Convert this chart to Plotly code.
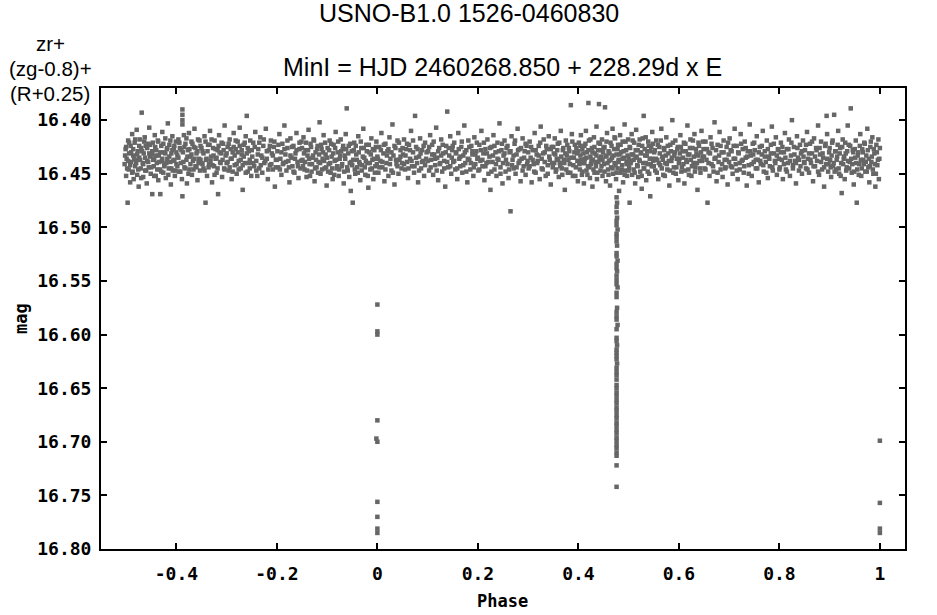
import plotly.graph_objects as go

# ---- data ----
band_points = [
    (-0.503,16.441),(-0.501,16.427),(-0.500,16.452),(-0.499,16.436),(-0.497,16.477),(-0.496,16.419),(-0.495,16.446),(-0.494,16.431),(-0.492,16.458),(-0.491,16.424),
    (-0.490,16.439),(-0.488,16.413),(-0.487,16.448),(-0.486,16.433),(-0.485,16.455),(-0.483,16.421),(-0.482,16.443),(-0.481,16.437),(-0.479,16.409),(-0.478,16.451),
    (-0.477,16.429),(-0.475,16.462),(-0.474,16.435),(-0.473,16.418),(-0.471,16.445),(-0.470,16.426),(-0.469,16.393),(-0.467,16.440),(-0.466,16.453),(-0.465,16.431),
    (-0.463,16.416),(-0.462,16.447),(-0.461,16.424),(-0.459,16.459),(-0.458,16.438),(-0.456,16.422),(-0.455,16.444),(-0.454,16.407),(-0.452,16.434),(-0.451,16.450),
    (-0.449,16.432),(-0.448,16.469),(-0.447,16.421),(-0.445,16.443),(-0.444,16.436),(-0.443,16.414),(-0.441,16.452),(-0.440,16.428),(-0.439,16.440),(-0.437,16.419),
    (-0.436,16.456),(-0.435,16.433),(-0.433,16.446),(-0.432,16.469),(-0.430,16.424),(-0.429,16.438),(-0.428,16.411),(-0.426,16.449),(-0.425,16.430),(-0.424,16.442),
    (-0.422,16.417),(-0.421,16.454),(-0.419,16.427),(-0.418,16.436),(-0.417,16.403),(-0.415,16.445),(-0.414,16.423),(-0.412,16.439),(-0.411,16.460),(-0.410,16.431),
    (-0.408,16.415),(-0.407,16.447),(-0.405,16.426),(-0.404,16.437),(-0.403,16.452),(-0.401,16.420),(-0.400,16.441),
    (-0.398,16.433),(-0.396,16.418),(-0.395,16.448),(-0.393,16.426),(-0.391,16.440),(-0.389,16.455),(-0.388,16.390),(-0.388,16.395),(-0.388,16.400),(-0.388,16.404),
    (-0.388,16.471),(-0.387,16.430),(-0.385,16.414),(-0.384,16.444),(-0.382,16.422),(-0.380,16.437),(-0.379,16.459),(-0.377,16.428),(-0.375,16.412),(-0.374,16.446),
    (-0.372,16.434),(-0.370,16.420),(-0.369,16.451),(-0.367,16.438),(-0.365,16.425),(-0.364,16.408),(-0.362,16.443),(-0.360,16.431),(-0.358,16.456),(-0.357,16.418),
    (-0.355,16.436),(-0.353,16.447),(-0.352,16.424),(-0.350,16.440),
    (-0.348,16.429),(-0.346,16.445),(-0.344,16.415),(-0.342,16.477),(-0.341,16.437),(-0.339,16.452),(-0.337,16.423),(-0.335,16.441),(-0.333,16.410),(-0.331,16.434),
    (-0.329,16.458),(-0.327,16.426),(-0.325,16.443),(-0.324,16.419),(-0.322,16.436),(-0.320,16.449),(-0.318,16.428),(-0.317,16.469),(-0.315,16.414),(-0.313,16.439),
    (-0.311,16.431),(-0.309,16.453),(-0.307,16.422),(-0.305,16.445),(-0.304,16.405),(-0.302,16.433),(-0.300,16.440),
    (-0.298,16.425),(-0.296,16.447),(-0.294,16.418),(-0.292,16.436),(-0.290,16.455),(-0.288,16.430),(-0.286,16.412),(-0.284,16.442),(-0.282,16.427),(-0.280,16.450),
    (-0.278,16.420),(-0.276,16.438),(-0.274,16.407),(-0.272,16.445),(-0.270,16.432),(-0.268,16.465),(-0.266,16.423),(-0.264,16.440),(-0.262,16.415),(-0.260,16.396),
    (-0.258,16.448),(-0.256,16.429),(-0.254,16.437),(-0.253,16.419),(-0.251,16.452),
    (-0.249,16.434),(-0.247,16.421),(-0.245,16.443),(-0.243,16.411),(-0.241,16.438),(-0.239,16.452),(-0.237,16.427),(-0.235,16.445),(-0.233,16.416),(-0.231,16.433),
    (-0.229,16.449),(-0.227,16.424),(-0.225,16.440),(-0.222,16.408),(-0.220,16.436),(-0.218,16.455),(-0.216,16.428),(-0.214,16.442),(-0.212,16.419),(-0.210,16.431),
    (-0.208,16.446),(-0.206,16.425),(-0.204,16.462),(-0.202,16.437),
    (-0.199,16.429),(-0.197,16.444),(-0.195,16.413),(-0.193,16.436),(-0.191,16.451),(-0.189,16.422),(-0.187,16.440),(-0.185,16.405),(-0.183,16.432),(-0.181,16.447),
    (-0.179,16.426),(-0.177,16.438),(-0.175,16.458),(-0.173,16.417),(-0.171,16.435),(-0.169,16.443),(-0.167,16.424),(-0.165,16.449),(-0.163,16.431),(-0.161,16.412),
    (-0.159,16.439),(-0.157,16.454),(-0.155,16.427),(-0.153,16.445),(-0.151,16.420),
    (-0.149,16.437),(-0.147,16.416),(-0.145,16.446),(-0.143,16.428),(-0.141,16.453),(-0.139,16.433),(-0.137,16.409),(-0.135,16.441),(-0.133,16.422),(-0.131,16.448),
    (-0.129,16.435),(-0.127,16.418),(-0.125,16.457),(-0.123,16.430),(-0.121,16.444),(-0.119,16.424),(-0.117,16.439),(-0.115,16.402),(-0.113,16.450),(-0.111,16.427),
    (-0.109,16.436),(-0.107,16.414),(-0.105,16.445),(-0.103,16.432),(-0.101,16.461),
    (-0.099,16.426),(-0.097,16.441),(-0.095,16.419),(-0.093,16.449),(-0.091,16.434),(-0.089,16.455),(-0.087,16.423),(-0.085,16.438),(-0.083,16.411),(-0.081,16.445),
    (-0.079,16.430),(-0.077,16.452),(-0.075,16.436),(-0.073,16.418),(-0.071,16.443),(-0.069,16.427),(-0.067,16.459),(-0.065,16.433),(-0.063,16.413),(-0.061,16.389),
    (-0.059,16.447),(-0.057,16.424),(-0.055,16.440),(-0.053,16.466),(-0.051,16.429),
    (-0.049,16.477),(-0.048,16.437),(-0.046,16.421),(-0.044,16.450),(-0.042,16.432),(-0.040,16.444),(-0.038,16.415),(-0.036,16.439),(-0.034,16.456),(-0.032,16.426),
    (-0.030,16.442),(-0.028,16.408),(-0.026,16.435),(-0.024,16.451),(-0.022,16.423),(-0.020,16.440),(-0.018,16.463),(-0.016,16.430),(-0.014,16.446),(-0.012,16.417),
    (-0.010,16.437),(-0.008,16.455),(-0.006,16.428),(-0.004,16.443),(-0.002,16.420),(0.000,16.434),
    (0.002,16.449),(0.004,16.425),(0.006,16.438),(0.008,16.412),(0.010,16.444),(0.012,16.431),(0.014,16.457),(0.016,16.422),(0.018,16.440),(0.020,16.429),
    (0.022,16.452),(0.024,16.416),(0.026,16.436),(0.028,16.447),(0.030,16.404),(0.032,16.433),(0.034,16.460),(0.036,16.426),(0.038,16.441),(0.040,16.419),
    (0.042,16.450),(0.044,16.437),(0.046,16.428),(0.048,16.445),
    (0.051,16.432),(0.053,16.418),(0.055,16.446),(0.057,16.427),(0.059,16.439),(0.061,16.454),(0.063,16.423),(0.065,16.436),(0.067,16.410),(0.069,16.443),
    (0.071,16.430),(0.073,16.449),(0.075,16.396),(0.077,16.425),(0.079,16.440),(0.081,16.458),(0.083,16.434),(0.085,16.417),(0.087,16.445),(0.089,16.428),
    (0.091,16.438),(0.093,16.452),(0.095,16.421),(0.097,16.436),
    (0.101,16.429),(0.103,16.447),(0.105,16.414),(0.107,16.437),(0.109,16.423),(0.111,16.451),(0.113,16.432),(0.115,16.442),(0.117,16.407),(0.119,16.435),
    (0.121,16.456),(0.123,16.426),(0.125,16.440),(0.127,16.418),(0.129,16.448),(0.131,16.431),(0.133,16.438),(0.135,16.462),(0.137,16.424),(0.139,16.392),
    (0.141,16.444),(0.143,16.433),(0.145,16.415),(0.147,16.450),(0.149,16.428),
    (0.151,16.439),(0.153,16.421),(0.155,16.446),(0.157,16.430),(0.159,16.455),(0.161,16.412),(0.163,16.436),(0.165,16.443),(0.167,16.425),(0.169,16.449),
    (0.171,16.433),(0.173,16.405),(0.175,16.440),(0.177,16.428),(0.179,16.458),(0.181,16.419),(0.183,16.437),(0.185,16.446),(0.187,16.424),(0.189,16.432),
    (0.191,16.452),(0.193,16.416),(0.195,16.441),(0.197,16.429),(0.199,16.436),
    (0.201,16.447),(0.203,16.423),(0.205,16.438),(0.207,16.410),(0.209,16.443),(0.211,16.431),(0.213,16.456),(0.215,16.427),(0.217,16.440),(0.219,16.418),
    (0.221,16.450),(0.223,16.434),(0.225,16.465),(0.227,16.425),(0.229,16.439),(0.231,16.414),(0.233,16.446),(0.235,16.430),(0.237,16.452),(0.239,16.421),
    (0.241,16.437),(0.243,16.403),(0.245,16.444),(0.247,16.428),(0.249,16.459),
    (0.251,16.433),(0.253,16.419),(0.255,16.448),(0.257,16.426),(0.259,16.441),(0.261,16.454),(0.263,16.430),(0.265,16.485),(0.267,16.415),(0.269,16.437),
    (0.271,16.445),(0.273,16.422),(0.275,16.450),(0.277,16.432),(0.279,16.408),(0.281,16.440),(0.283,16.427),(0.285,16.457),(0.287,16.436),(0.289,16.417),
    (0.291,16.443),(0.293,16.429),(0.295,16.451),(0.297,16.424),(0.299,16.438),
    (0.301,16.445),(0.303,16.420),(0.305,16.435),(0.307,16.458),(0.309,16.428),(0.311,16.441),(0.313,16.412),(0.315,16.449),(0.317,16.432),(0.319,16.438),
    (0.321,16.424),(0.323,16.455),(0.325,16.406),(0.327,16.436),(0.329,16.446),(0.331,16.418),(0.333,16.430),(0.335,16.452),(0.337,16.427),(0.339,16.442),
    (0.341,16.415),(0.343,16.437),(0.345,16.460),(0.347,16.425),(0.349,16.444),
    (0.351,16.431),(0.353,16.417),(0.355,16.448),(0.357,16.436),(0.359,16.422),(0.361,16.453),(0.363,16.440),(0.365,16.410),(0.367,16.445),(0.369,16.428),
    (0.371,16.437),(0.373,16.465),(0.375,16.419),(0.377,16.433),(0.379,16.449),(0.381,16.426),(0.383,16.441),(0.385,16.386),(0.387,16.413),(0.389,16.452),
    (0.391,16.435),(0.393,16.423),(0.395,16.444),(0.397,16.431),(0.399,16.457),
    (0.400,16.438),(0.401,16.421),(0.403,16.446),(0.404,16.433),(0.405,16.414),(0.407,16.451),(0.408,16.427),(0.409,16.440),(0.411,16.459),(0.412,16.424),
    (0.413,16.436),(0.415,16.410),(0.416,16.447),(0.417,16.430),(0.419,16.443),(0.420,16.384),(0.421,16.419),(0.423,16.454),(0.424,16.434),(0.425,16.441),
    (0.427,16.426),(0.428,16.462),(0.429,16.437),(0.431,16.416),(0.432,16.449),(0.433,16.431),(0.435,16.443),(0.436,16.406),(0.437,16.455),(0.439,16.428),
    (0.440,16.439),(0.441,16.385),(0.443,16.422),(0.444,16.447),(0.445,16.434),(0.447,16.418),(0.448,16.452),(0.449,16.430),
    (0.451,16.441),(0.452,16.425),(0.453,16.388),(0.455,16.457),(0.456,16.433),(0.457,16.412),(0.459,16.446),(0.460,16.429),(0.461,16.438),(0.463,16.461),
    (0.464,16.421),(0.465,16.444),(0.467,16.435),(0.468,16.408),(0.469,16.450),(0.471,16.427),(0.472,16.440),(0.473,16.417),(0.475,16.455),(0.476,16.432),
    (0.478,16.445),(0.479,16.423),(0.480,16.437),(0.481,16.466),(0.483,16.414),(0.484,16.449),(0.485,16.430),(0.487,16.442),(0.488,16.420),(0.489,16.458),
    (0.491,16.435),(0.492,16.404),(0.493,16.447),(0.495,16.428),(0.496,16.439),(0.497,16.452),(0.499,16.418),(0.500,16.436),
    (0.501,16.444),(0.502,16.477),(0.503,16.426),(0.505,16.438),(0.506,16.413),(0.507,16.451),(0.509,16.432),(0.510,16.446),(0.511,16.421),(0.513,16.459),
    (0.514,16.435),(0.515,16.409),(0.517,16.442),(0.518,16.428),(0.519,16.453),(0.521,16.437),(0.522,16.418),(0.523,16.448),(0.525,16.431),(0.526,16.464),
    (0.527,16.424),(0.529,16.440),(0.530,16.396),(0.531,16.445),(0.533,16.433),(0.534,16.416),(0.535,16.456),(0.537,16.429),(0.538,16.441),(0.539,16.420),
    (0.541,16.450),(0.542,16.436),(0.543,16.471),(0.545,16.425),(0.546,16.443),(0.547,16.411),(0.549,16.438),
    (0.551,16.430),(0.553,16.447),(0.555,16.419),(0.557,16.437),(0.559,16.455),(0.561,16.425),(0.563,16.442),(0.565,16.408),(0.567,16.434),(0.569,16.451),
    (0.571,16.428),(0.573,16.440),(0.575,16.416),(0.577,16.446),(0.579,16.431),(0.581,16.461),(0.583,16.423),(0.585,16.438),(0.587,16.400),(0.589,16.449),
    (0.591,16.433),(0.593,16.419),(0.595,16.444),(0.597,16.427),(0.599,16.456),
    (0.601,16.436),(0.603,16.414),(0.605,16.448),(0.607,16.429),(0.609,16.441),(0.611,16.459),(0.613,16.422),(0.615,16.437),(0.617,16.405),(0.619,16.446),
    (0.621,16.432),(0.623,16.418),(0.625,16.452),(0.627,16.426),(0.629,16.440),(0.631,16.413),(0.633,16.444),(0.635,16.431),(0.637,16.465),(0.639,16.421),
    (0.641,16.438),(0.643,16.449),(0.645,16.410),(0.647,16.434),(0.649,16.427),
    (0.651,16.445),(0.653,16.420),(0.655,16.437),(0.657,16.477),(0.659,16.430),(0.661,16.452),(0.663,16.416),(0.665,16.441),(0.667,16.426),(0.669,16.448),
    (0.671,16.402),(0.673,16.435),(0.675,16.457),(0.677,16.423),(0.679,16.439),(0.681,16.411),(0.683,16.446),(0.685,16.430),(0.687,16.453),(0.689,16.419),
    (0.691,16.437),(0.693,16.444),(0.695,16.425),(0.697,16.460),(0.699,16.432),
    (0.701,16.417),(0.703,16.443),(0.705,16.429),(0.707,16.450),(0.709,16.436),(0.711,16.408),(0.713,16.441),(0.715,16.424),(0.717,16.455),(0.719,16.431),
    (0.721,16.446),(0.723,16.413),(0.725,16.438),(0.727,16.427),(0.729,16.449),(0.731,16.420),(0.733,16.435),(0.735,16.461),(0.737,16.429),(0.739,16.442),
    (0.741,16.404),(0.743,16.433),(0.745,16.452),(0.747,16.422),(0.749,16.439),
    (0.751,16.428),(0.753,16.445),(0.755,16.415),(0.757,16.437),(0.759,16.458),(0.761,16.425),(0.763,16.441),(0.765,16.432),(0.767,16.410),(0.769,16.448),
    (0.771,16.429),(0.773,16.439),(0.775,16.419),(0.777,16.454),(0.779,16.434),(0.781,16.443),(0.783,16.423),(0.785,16.406),(0.787,16.447),(0.789,16.431),
    (0.791,16.438),(0.793,16.416),(0.795,16.451),(0.797,16.427),(0.799,16.436),
    (0.801,16.444),(0.803,16.421),(0.805,16.437),(0.807,16.455),(0.809,16.430),(0.811,16.412),(0.813,16.446),(0.815,16.427),(0.817,16.440),(0.819,16.418),
    (0.821,16.452),(0.823,16.433),(0.825,16.400),(0.827,16.442),(0.829,16.425),(0.831,16.438),(0.833,16.459),(0.835,16.415),(0.837,16.435),(0.839,16.447),
    (0.841,16.423),(0.843,16.431),(0.845,16.450),(0.847,16.419),(0.849,16.439),
    (0.851,16.428),(0.853,16.445),(0.855,16.411),(0.857,16.436),(0.859,16.449),(0.861,16.422),(0.863,16.440),(0.865,16.431),(0.867,16.457),(0.869,16.417),
    (0.871,16.443),(0.873,16.426),(0.875,16.438),(0.877,16.405),(0.879,16.451),(0.881,16.432),(0.883,16.420),(0.885,16.446),(0.887,16.435),(0.889,16.462),
    (0.891,16.424),(0.893,16.441),(0.894,16.396),(0.895,16.413),(0.897,16.448),(0.899,16.430),
    (0.901,16.437),(0.903,16.453),(0.905,16.421),(0.907,16.443),(0.909,16.395),(0.911,16.429),(0.913,16.446),(0.915,16.434),(0.917,16.410),(0.919,16.450),
    (0.921,16.426),(0.923,16.440),(0.924,16.468),(0.926,16.418),(0.928,16.436),(0.930,16.455),(0.932,16.431),(0.934,16.444),(0.936,16.405),(0.938,16.423),
    (0.940,16.439),(0.942,16.389),(0.944,16.449),(0.946,16.428),(0.948,16.460),
    (0.951,16.435),(0.952,16.419),(0.954,16.477),(0.955,16.446),(0.957,16.430),(0.959,16.441),(0.961,16.413),(0.963,16.452),(0.965,16.427),(0.967,16.437),
    (0.969,16.421),(0.971,16.448),(0.973,16.433),(0.975,16.408),(0.977,16.444),(0.979,16.458),(0.981,16.425),(0.983,16.439),(0.985,16.416),(0.987,16.450),
    (0.989,16.431),(0.991,16.462),(0.993,16.423),(0.995,16.442),(0.997,16.418),(0.999,16.436),
]

# second group of band observations (core of the band)
band_points_2 = [
    (-0.502,16.433),(-0.500,16.425),(-0.498,16.445),(-0.496,16.438),(-0.494,16.421),(-0.492,16.442),(-0.490,16.430),(-0.488,16.449),(-0.486,16.427),(-0.484,16.436),
    (-0.482,16.418),(-0.480,16.440),(-0.478,16.432),(-0.476,16.446),(-0.474,16.424),(-0.472,16.437),(-0.470,16.454),(-0.468,16.429),(-0.466,16.441),(-0.464,16.420),
    (-0.462,16.435),(-0.460,16.447),(-0.458,16.426),(-0.456,16.439),(-0.454,16.431),(-0.452,16.423),
    (-0.450,16.444),(-0.448,16.429),(-0.446,16.437),(-0.444,16.452),(-0.442,16.425),(-0.440,16.433),(-0.438,16.446),(-0.436,16.420),(-0.434,16.439),(-0.432,16.430),
    (-0.430,16.448),(-0.428,16.436),(-0.426,16.422),(-0.424,16.443),(-0.422,16.431),(-0.420,16.440),(-0.418,16.426),(-0.416,16.451),(-0.414,16.434),(-0.412,16.419),
    (-0.410,16.445),(-0.408,16.428),(-0.406,16.438),(-0.404,16.424),(-0.402,16.447),
    (-0.400,16.430),(-0.398,16.443),(-0.396,16.435),(-0.394,16.421),(-0.392,16.448),(-0.390,16.428),(-0.386,16.439),(-0.384,16.425),(-0.382,16.445),(-0.380,16.417),
    (-0.378,16.434),(-0.376,16.450),(-0.374,16.427),(-0.372,16.441),(-0.370,16.432),(-0.368,16.422),(-0.366,16.446),(-0.364,16.436),(-0.362,16.426),(-0.360,16.444),
    (-0.358,16.429),(-0.356,16.440),(-0.354,16.419),(-0.352,16.437),
    (-0.350,16.426),(-0.348,16.441),(-0.346,16.431),(-0.344,16.447),(-0.342,16.420),(-0.340,16.436),(-0.338,16.429),(-0.336,16.444),(-0.334,16.423),(-0.332,16.438),
    (-0.330,16.418),(-0.328,16.442),(-0.326,16.433),(-0.324,16.451),(-0.322,16.427),(-0.320,16.435),(-0.318,16.445),(-0.316,16.424),(-0.314,16.430),(-0.312,16.440),
    (-0.310,16.421),(-0.308,16.437),(-0.306,16.428),(-0.304,16.446),
    (-0.300,16.431),(-0.298,16.439),(-0.296,16.422),(-0.294,16.444),(-0.292,16.427),(-0.290,16.436),(-0.288,16.448),(-0.286,16.425),(-0.284,16.433),(-0.282,16.419),
    (-0.280,16.441),(-0.278,16.430),(-0.276,16.446),(-0.274,16.424),(-0.272,16.437),(-0.270,16.428),(-0.268,16.442),(-0.266,16.434),(-0.264,16.421),(-0.262,16.449),
    (-0.260,16.431),(-0.258,16.426),(-0.256,16.440),(-0.254,16.445),
    (-0.250,16.428),(-0.247,16.440),(-0.244,16.425),(-0.241,16.447),(-0.238,16.432),(-0.235,16.421),(-0.232,16.442),(-0.229,16.435),(-0.226,16.418),(-0.223,16.438),
    (-0.220,16.429),(-0.217,16.446),(-0.214,16.424),(-0.211,16.441),(-0.208,16.433),(-0.205,16.420),(-0.202,16.444),
    (-0.200,16.437),(-0.197,16.423),(-0.194,16.446),(-0.191,16.430),(-0.188,16.441),(-0.185,16.427),(-0.182,16.439),(-0.179,16.419),(-0.176,16.444),(-0.173,16.433),
    (-0.170,16.425),(-0.167,16.448),(-0.164,16.436),(-0.161,16.428),(-0.158,16.443),(-0.155,16.421),(-0.152,16.438),
    (-0.150,16.426),(-0.148,16.443),(-0.146,16.431),(-0.144,16.439),(-0.142,16.421),(-0.140,16.447),(-0.138,16.428),(-0.136,16.436),(-0.134,16.452),(-0.132,16.425),
    (-0.130,16.441),(-0.128,16.433),(-0.126,16.419),(-0.124,16.445),(-0.122,16.437),(-0.120,16.427),(-0.118,16.449),(-0.116,16.432),(-0.114,16.440),(-0.112,16.423),
    (-0.110,16.446),(-0.108,16.430),(-0.106,16.438),(-0.104,16.421),(-0.102,16.444),
    (-0.100,16.435),(-0.098,16.448),(-0.096,16.428),(-0.094,16.440),(-0.092,16.422),(-0.090,16.445),(-0.088,16.431),(-0.086,16.451),(-0.084,16.426),(-0.082,16.437),
    (-0.080,16.443),(-0.078,16.420),(-0.076,16.446),(-0.074,16.433),(-0.072,16.429),(-0.070,16.441),(-0.068,16.424),(-0.066,16.448),(-0.064,16.436),(-0.062,16.427),
    (-0.060,16.444),(-0.058,16.431),(-0.056,16.453),(-0.054,16.422),(-0.052,16.439),
    (-0.050,16.442),(-0.047,16.428),(-0.045,16.446),(-0.043,16.424),(-0.041,16.437),(-0.039,16.449),(-0.037,16.430),(-0.035,16.441),(-0.033,16.420),(-0.031,16.447),
    (-0.029,16.434),(-0.027,16.426),(-0.025,16.444),(-0.023,16.438),(-0.021,16.429),(-0.019,16.452),(-0.017,16.423),(-0.015,16.440),(-0.013,16.432),(-0.011,16.445),
    (-0.009,16.427),(-0.007,16.436),(-0.005,16.449),(-0.003,16.425),(-0.001,16.441),
    (0.001,16.436),(0.004,16.444),(0.007,16.428),(0.010,16.439),(0.013,16.423),(0.016,16.446),(0.019,16.433),(0.022,16.427),(0.025,16.441),(0.028,16.430),
    (0.031,16.449),(0.034,16.424),(0.037,16.437),(0.040,16.443),(0.043,16.421),(0.046,16.434),(0.049,16.440),
    (0.050,16.426),(0.053,16.441),(0.056,16.433),(0.059,16.422),(0.062,16.445),(0.065,16.428),(0.068,16.438),(0.071,16.419),(0.074,16.443),(0.077,16.435),
    (0.080,16.427),(0.083,16.447),(0.086,16.431),(0.089,16.439),(0.092,16.424),(0.095,16.442),(0.098,16.430),
    (0.100,16.438),(0.103,16.425),(0.106,16.444),(0.109,16.432),(0.112,16.420),(0.115,16.436),(0.118,16.447),(0.121,16.429),(0.124,16.441),(0.127,16.433),
    (0.130,16.423),(0.133,16.445),(0.136,16.430),(0.139,16.439),(0.142,16.426),(0.145,16.443),(0.148,16.435),
    (0.150,16.424),(0.153,16.438),(0.156,16.431),(0.159,16.445),(0.162,16.427),(0.165,16.434),(0.168,16.420),(0.171,16.442),(0.174,16.430),(0.177,16.448),
    (0.180,16.436),(0.183,16.425),(0.186,16.440),(0.189,16.429),(0.192,16.444),(0.195,16.432),(0.198,16.421),
    (0.200,16.435),(0.203,16.446),(0.206,16.428),(0.209,16.437),(0.212,16.421),(0.215,16.443),(0.218,16.431),(0.221,16.439),(0.224,16.426),(0.227,16.448),
    (0.230,16.433),(0.233,16.424),(0.236,16.441),(0.239,16.436),(0.242,16.429),(0.245,16.450),(0.248,16.422),
    (0.250,16.440),(0.253,16.431),(0.256,16.437),(0.259,16.424),(0.262,16.446),(0.265,16.429),(0.268,16.442),(0.271,16.433),(0.274,16.419),(0.277,16.444),
    (0.280,16.428),(0.283,16.438),(0.286,16.426),(0.289,16.447),(0.292,16.435),(0.295,16.422),(0.298,16.441),
    (0.300,16.430),(0.303,16.443),(0.306,16.425),(0.309,16.437),(0.312,16.448),(0.315,16.428),(0.318,16.440),(0.321,16.433),(0.324,16.421),(0.327,16.445),
    (0.330,16.431),(0.333,16.439),(0.336,16.424),(0.339,16.450),(0.342,16.434),(0.345,16.427),(0.348,16.440),
    (0.350,16.425),(0.352,16.440),(0.354,16.432),(0.356,16.446),(0.358,16.428),(0.360,16.437),(0.362,16.421),(0.364,16.443),(0.366,16.434),(0.368,16.451),
    (0.370,16.426),(0.372,16.440),(0.374,16.431),(0.376,16.446),(0.378,16.423),(0.380,16.437),(0.382,16.429),(0.384,16.449),(0.386,16.435),(0.388,16.420),
    (0.390,16.442),(0.392,16.430),(0.394,16.452),(0.396,16.426),(0.398,16.438),
    (0.400,16.429),(0.402,16.441),(0.404,16.424),(0.406,16.437),(0.408,16.448),(0.410,16.431),(0.412,16.440),(0.414,16.422),(0.416,16.435),(0.418,16.451),
    (0.420,16.428),(0.422,16.444),(0.424,16.418),(0.426,16.437),(0.428,16.430),(0.430,16.446),(0.432,16.425),(0.434,16.439),(0.436,16.433),(0.438,16.449),
    (0.440,16.421),(0.442,16.436),(0.444,16.428),(0.446,16.443),(0.448,16.437),
    (0.450,16.426),(0.452,16.448),(0.454,16.434),(0.456,16.420),(0.458,16.440),(0.460,16.451),(0.462,16.431),(0.464,16.437),(0.466,16.424),(0.468,16.445),
    (0.470,16.433),(0.472,16.416),(0.474,16.442),(0.476,16.449),(0.478,16.427),(0.480,16.439),(0.482,16.432),(0.484,16.423),(0.486,16.446),(0.488,16.436),
    (0.490,16.429),(0.492,16.451),(0.494,16.420),(0.496,16.441),(0.498,16.433),
    (0.500,16.447),(0.502,16.425),(0.504,16.440),(0.506,16.432),(0.508,16.419),(0.510,16.437),(0.512,16.449),(0.514,16.428),(0.516,16.434),(0.518,16.443),
    (0.520,16.423),(0.522,16.438),(0.524,16.430),(0.526,16.452),(0.528,16.417),(0.530,16.445),(0.532,16.427),(0.534,16.440),(0.536,16.433),(0.538,16.448),
    (0.540,16.424),(0.542,16.429),(0.544,16.441),(0.546,16.436),(0.548,16.422),
    (0.550,16.443),(0.552,16.428),(0.554,16.436),(0.556,16.449),(0.558,16.423),(0.560,16.440),(0.562,16.431),(0.564,16.419),(0.566,16.445),(0.568,16.437),
    (0.570,16.426),(0.572,16.452),(0.574,16.433),(0.576,16.441),(0.578,16.424),(0.580,16.438),(0.582,16.447),(0.584,16.429),(0.586,16.435),(0.588,16.421),
    (0.590,16.444),(0.592,16.430),(0.594,16.450),(0.596,16.436),(0.598,16.425),
    (0.600,16.440),(0.602,16.431),(0.604,16.425),(0.606,16.444),(0.608,16.435),(0.610,16.421),(0.612,16.447),(0.614,16.429),(0.616,16.439),(0.618,16.432),
    (0.620,16.451),(0.622,16.426),(0.624,16.437),(0.626,16.443),(0.628,16.419),(0.630,16.434),(0.632,16.448),(0.634,16.427),(0.636,16.440),(0.638,16.433),
    (0.640,16.424),(0.642,16.445),(0.644,16.430),(0.646,16.438),(0.648,16.420),
    (0.650,16.434),(0.653,16.446),(0.656,16.427),(0.659,16.440),(0.662,16.431),(0.665,16.422),(0.668,16.443),(0.671,16.436),(0.674,16.428),(0.677,16.449),
    (0.680,16.433),(0.683,16.424),(0.686,16.441),(0.689,16.430),(0.692,16.445),(0.695,16.437),(0.698,16.421),
    (0.700,16.439),(0.703,16.428),(0.706,16.444),(0.709,16.424),(0.712,16.436),(0.715,16.447),(0.718,16.430),(0.721,16.440),(0.724,16.422),(0.727,16.437),
    (0.730,16.443),(0.733,16.426),(0.736,16.434),(0.739,16.450),(0.742,16.429),(0.745,16.441),(0.748,16.432),
    (0.750,16.421),(0.753,16.437),(0.756,16.445),(0.759,16.430),(0.762,16.438),(0.765,16.424),(0.768,16.442),(0.771,16.434),(0.774,16.449),(0.777,16.427),
    (0.780,16.436),(0.783,16.431),(0.786,16.444),(0.789,16.422),(0.792,16.440),(0.795,16.433),(0.798,16.428),
    (0.800,16.446),(0.803,16.430),(0.806,16.425),(0.809,16.441),(0.812,16.435),(0.815,16.448),(0.818,16.427),(0.821,16.438),(0.824,16.421),(0.827,16.445),
    (0.830,16.432),(0.833,16.440),(0.836,16.426),(0.839,16.437),(0.842,16.443),(0.845,16.429),(0.848,16.434),
    (0.850,16.440),(0.853,16.423),(0.856,16.446),(0.859,16.431),(0.862,16.437),(0.865,16.420),(0.868,16.443),(0.871,16.434),(0.874,16.428),(0.877,16.448),
    (0.880,16.426),(0.883,16.439),(0.886,16.431),(0.889,16.444),(0.892,16.422),(0.895,16.436),(0.898,16.441),
    (0.900,16.426),(0.902,16.444),(0.904,16.433),(0.906,16.419),(0.908,16.440),(0.910,16.448),(0.912,16.429),(0.914,16.437),(0.916,16.423),(0.918,16.445),
    (0.920,16.431),(0.922,16.452),(0.925,16.425),(0.927,16.441),(0.929,16.434),(0.931,16.421),(0.933,16.447),(0.935,16.429),(0.937,16.438),(0.939,16.445),
    (0.941,16.424),(0.943,16.436),(0.945,16.441),(0.947,16.430),(0.949,16.448),
    (0.950,16.427),(0.953,16.440),(0.956,16.433),(0.958,16.451),(0.960,16.424),(0.962,16.437),(0.964,16.445),(0.966,16.430),(0.968,16.441),(0.970,16.422),
    (0.972,16.439),(0.974,16.448),(0.976,16.428),(0.978,16.436),(0.980,16.443),(0.982,16.420),(0.984,16.434),(0.986,16.446),(0.988,16.427),(0.990,16.441),
    (0.992,16.450),(0.994,16.430),(0.996,16.437),(0.998,16.455),(1.000,16.426),
]

# secondary minimum column near phase 0.476
ecl2_phase = [0.476,0.477,0.476,0.476,0.477,0.476,0.476,0.478,0.476,0.476,
              0.476,0.477,0.476,0.476,0.478,0.476,0.476,0.477,0.476,0.476,
              0.476,0.478,0.476,0.476,0.477,0.476,0.476,0.476,0.478,0.476,
              0.476,0.476,0.477,0.476,0.476,0.476,0.476,0.477,0.476,0.476,
              0.476,0.476,0.476,0.476,0.476,0.476,0.476,0.476,0.476,0.476,
              0.476,0.476,0.476,0.476,0.476,0.476,0.476,0.476,0.476,0.476,
              0.476,0.476,0.476,0.476]
ecl2_mag = [16.472,16.477,16.481,16.486,16.491,16.494,16.498,16.502,16.506,16.509,
            16.513,16.517,16.524,16.527,16.531,16.534,16.538,16.541,16.545,16.549,
            16.553,16.556,16.561,16.565,16.575,16.579,16.583,16.586,16.591,16.595,
            16.603,16.606,16.610,16.614,16.617,16.620,16.623,16.627,16.631,16.635,
            16.638,16.642,16.647,16.650,16.654,16.657,16.661,16.664,16.668,16.671,
            16.675,16.678,16.682,16.685,16.689,16.692,16.696,16.699,16.703,16.706,
            16.710,16.713,16.722,16.742]

# primary minimum points at phase 0 and phase 1
ecl1_phase = [0.000,0.000,0.000,0.000,-0.002,0.000,0.000,0.000,0.000,0.000,
              1.000,1.000,1.000,1.000]
ecl1_mag = [16.572,16.597,16.600,16.680,16.697,16.700,16.756,16.770,16.781,16.785,
            16.699,16.757,16.781,16.785]

x_ticks = [-0.4,-0.2,0,0.2,0.4,0.6,0.8,1]
x_ticklabels = ["-0.4","-0.2","0","0.2","0.4","0.6","0.8","1"]
y_ticks = [16.40,16.45,16.50,16.55,16.60,16.65,16.70,16.75,16.80]
y_ticklabels = ["16.40","16.45","16.50","16.55","16.60","16.65","16.70","16.75","16.80"]

title_text = "USNO-B1.0 1526-0460830"
subtitle_text = "MinI = HJD 2460268.850 + 228.29d x E"
ylabel_lines = ["zr+", "(zg-0.8)+", "(R+0.25)"]

# ---- figure ----
phases = [p for p, m in band_points] + [p for p, m in band_points_2] + ecl2_phase + ecl1_phase
mags = [m for p, m in band_points] + [m for p, m in band_points_2] + ecl2_mag + ecl1_mag

W, H = 937, 615
L, R, T, B = 101, 32, 88, 66
PW, PH = W - L - R, H - T - B


def px(x):
    return (x - L) / PW


def py(y):
    return (H - B - y) / PH


MARK = "#666666"
fig = go.Figure()
fig.add_trace(go.Scatter(
    x=phases, y=mags, mode="markers",
    marker=dict(symbol="square", size=4.5, color=MARK, line=dict(width=0)),
    hoverinfo="skip", showlegend=False))

tickfont = dict(family="DejaVu Sans Mono", size=18, color="black", weight="bold")
textfont = dict(family="Liberation Sans, Arial", size=25, color="black")
boldfont = dict(family="DejaVu Sans Mono", size=17, color="black", weight="bold")
labelfont = dict(family="Liberation Sans, Arial", size=20.5, color="black")

annotations = [
    dict(text=title_text, x=px(469), y=py(13), font=textfont),
    dict(text=subtitle_text, x=px(502), y=py(67), font=textfont),
    dict(text="Phase", x=px(502), y=py(601), font=boldfont),
    dict(text="mag", x=px(21), y=py(319), font=boldfont, textangle=-90),
]
for i, line in enumerate(ylabel_lines):
    annotations.append(dict(text=line, x=px(50), y=py(44 + 24.5 * i), font=labelfont))
for a in annotations:
    a.update(xref="paper", yref="paper", xanchor="center", yanchor="middle", showarrow=False)

fig.update_layout(
    width=W, height=H,
    margin=dict(l=L, r=R, t=T, b=B),
    paper_bgcolor="white", plot_bgcolor="white",
    showlegend=False,
    xaxis=dict(range=[-0.55, 1.05], tickvals=x_ticks, ticktext=x_ticklabels,
               ticks="inside", ticklen=6, tickwidth=2, tickcolor="black",
               showline=True, linecolor="black", linewidth=2, mirror="ticks",
               showgrid=False, zeroline=False, tickfont=tickfont,
               ticklabelstandoff=7),
    yaxis=dict(range=[16.80, 16.37], tickvals=y_ticks, ticktext=y_ticklabels,
               ticks="inside", ticklen=6, tickwidth=2, tickcolor="black",
               showline=True, linecolor="black", linewidth=2, mirror="ticks",
               showgrid=False, zeroline=False, tickfont=tickfont,
               ticklabelstandoff=4),
    annotations=annotations,
)

fig.write_html("out.html", config={"displayModeBar": False},
               post_script="document.body.style.margin='0px';")
